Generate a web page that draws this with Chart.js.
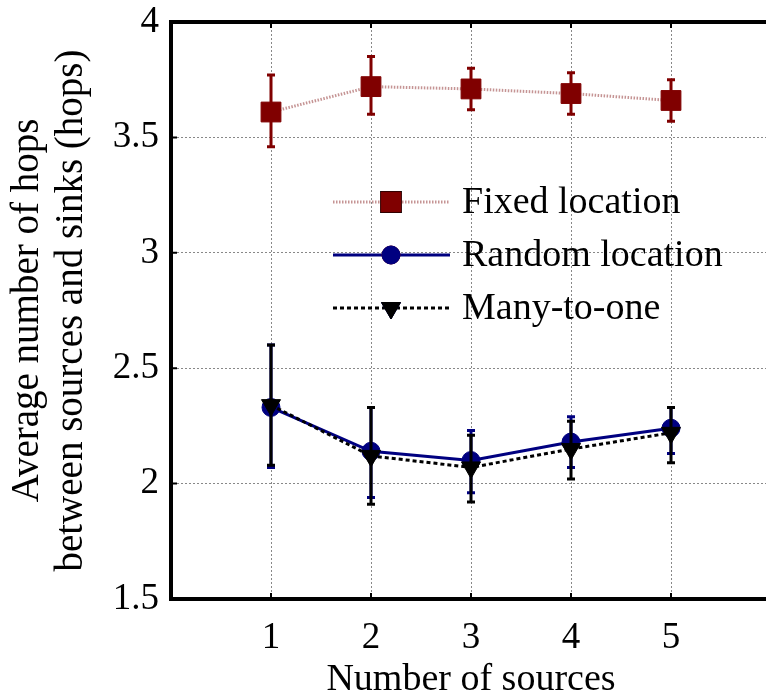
<!DOCTYPE html>
<html>
<head>
<meta charset="utf-8">
<script src="https://cdn.jsdelivr.net/npm/chart.js@4.4.0/dist/chart.umd.min.js"></script>
<style>
  html, body { margin: 0; padding: 0; background: #fff; overflow: hidden; }
  #wrap { width: 786px; height: 698px; }
</style>
</head>
<body>
<div id="wrap"><canvas id="chart" width="786" height="698"></canvas></div>
<script>
const sources = [1, 2, 3, 4, 5];
const yTicks = [1.5, 2, 2.5, 3, 3.5, 4];

const fixedMean = [3.61, 3.72, 3.71, 3.69, 3.66];
const fixedLow  = [3.46, 3.60, 3.62, 3.60, 3.57];
const fixedHigh = [3.77, 3.85, 3.80, 3.78, 3.75];

const randomMean = [2.33, 2.14, 2.10, 2.18, 2.24];
const randomLow  = [2.07, 1.94, 1.96, 2.07, 2.13];
const randomHigh = [2.60, 2.33, 2.23, 2.29, 2.33];

const manyMean = [2.34, 2.12, 2.07, 2.15, 2.22];
const manyLow  = [2.08, 1.91, 1.92, 2.02, 2.09];
const manyHigh = [2.60, 2.33, 2.21, 2.27, 2.33];

const serif = "'Liberation Serif', 'DejaVu Serif', serif";

function pts(ys) {
    return sources.map((x, i) => ({ x: x, y: ys[i] }));
}

const datasets = [
    {
        label: 'Many-to-one',
        data: pts(manyMean),
        low: manyLow, high: manyHigh,
        borderColor: '#000',
        backgroundColor: '#000',
        borderWidth: 3,
        borderDash: [4, 3],
        pointStyle: 'triangle',
        rotation: 180,
        pointRadius: 11,
        pointBorderWidth: 1
    },
    {
        label: 'Random location',
        data: pts(randomMean),
        low: randomLow, high: randomHigh,
        borderColor: '#000080',
        backgroundColor: '#000080',
        borderWidth: 3,
        pointStyle: 'circle',
        pointRadius: 9,
        pointBorderWidth: 1
    },
    {
        label: 'Fixed location',
        data: pts(fixedMean),
        low: fixedLow, high: fixedHigh,
        markColor: '#800000',
        borderColor: 'rgba(150, 60, 60, 0.55)',
        backgroundColor: '#800000',
        pointBorderColor: '#800000',
        borderWidth: 3,
        borderDash: [1.5, 1.5],
        pointStyle: 'rect',
        pointRadius: 14,
        pointBorderWidth: 1
    }
];

// error bars drawn right after each dataset's own markers
const errorBars = {
    id: 'errorBars',
    afterDatasetDraw(chart, args) {
        const ds = chart.data.datasets[args.index];
        const xs = chart.scales.x, ys = chart.scales.y;
        const ctx = chart.ctx;
        ctx.save();
        ctx.strokeStyle = ds.markColor || ds.backgroundColor;
        ctx.lineWidth = 3;
        ds.data.forEach((p, i) => {
            const px = xs.getPixelForValue(p.x);
            const top = ys.getPixelForValue(ds.high[i]);
            const bot = ys.getPixelForValue(ds.low[i]);
            ctx.beginPath();
            ctx.moveTo(px, top); ctx.lineTo(px, bot);
            ctx.moveTo(px - 4, top); ctx.lineTo(px + 4, top);
            ctx.moveTo(px - 4, bot); ctx.lineTo(px + 4, bot);
            ctx.stroke();
        });
        ctx.restore();
    }
};

// top frame line, small inward ticks and the inside legend
const frameAndLegend = {
    id: 'frameAndLegend',
    afterDraw(chart) {
        const ctx = chart.ctx;
        const a = chart.chartArea;
        const xs = chart.scales.x, ys = chart.scales.y;
        ctx.save();
        ctx.strokeStyle = '#000';
        ctx.lineWidth = 4;
        ctx.beginPath();
        ctx.moveTo(a.left - 2, a.top);
        ctx.lineTo(a.right, a.top);
        ctx.stroke();

        ctx.lineWidth = 2;
        ctx.beginPath();
        sources.forEach(v => {
            const px = xs.getPixelForValue(v);
            ctx.moveTo(px, a.bottom); ctx.lineTo(px, a.bottom - 6);
            ctx.moveTo(px, a.top); ctx.lineTo(px, a.top + 6);
        });
        yTicks.forEach(v => {
            const py = ys.getPixelForValue(v);
            ctx.moveTo(a.left, py); ctx.lineTo(a.left + 6, py);
        });
        ctx.stroke();

        const order = [2, 1, 0];
        const rowY = [202, 255, 308];
        const x0 = 333, x1 = 450, xm = 391;
        order.forEach((di, r) => {
            const ds = chart.data.datasets[di];
            const y = rowY[r];
            ctx.save();
            ctx.strokeStyle = ds.borderColor;
            ctx.lineWidth = ds.borderWidth;
            ctx.setLineDash(ds.borderDash || []);
            ctx.beginPath();
            ctx.moveTo(x0, y); ctx.lineTo(x1, y);
            ctx.stroke();
            ctx.restore();
            Chart.helpers.drawPoint(ctx, {
                pointStyle: ds.pointStyle,
                rotation: ds.rotation || 0,
                radius: ds.pointRadius,
                borderWidth: 1
            }, xm, y);
            ctx.fillStyle = ds.backgroundColor;
            ctx.strokeStyle = ds.pointBorderColor || ds.backgroundColor;
            ctx.lineWidth = 1;
            ctx.fill();
            ctx.stroke();
            ctx.fillStyle = '#000';
            ctx.font = '38px ' + serif;
            ctx.textBaseline = 'middle';
            ctx.textAlign = 'left';
            ctx.fillText(ds.label, 462, y + 1);
        });
        ctx.restore();
    }
};

new Chart(document.getElementById('chart'), {
    type: 'line',
    data: { datasets: datasets },
    options: {
        responsive: false,
        animation: false,
        layout: { padding: { top: 22, right: 5, left: 0, bottom: 0 } },
        plugins: { legend: { display: false }, tooltip: { enabled: false } },
        scales: {
            x: {
                type: 'linear',
                min: 0,
                max: 6,
                afterFit(scale) {
                    scale.height = 99;
                    scale.paddingLeft = 0;
                    scale.paddingRight = 0;
                },
                ticks: {
                    stepSize: 1,
                    color: '#000',
                    padding: 17,
                    font: { family: serif, size: 37 },
                    callback: v => (v >= 1 && v <= 5) ? String(v) : ''
                },
                grid: {
                    color: '#888',
                    lineWidth: 1,
                    drawTicks: false
                },
                border: { display: true, color: '#000', width: 4, dash: [2, 2] },
                title: {
                    display: true,
                    text: 'Number of sources',
                    color: '#000',
                    font: { family: serif, size: 38 },
                    padding: { top: 8, bottom: -5 }
                }
            },
            y: {
                min: 1.5,
                max: 4,
                afterFit(scale) {
                    scale.width = 171;
                    scale.paddingTop = 0;
                    scale.paddingBottom = 0;
                },
                afterBuildTicks(scale) { scale.ticks = yTicks.map(v => ({ value: v })); },
                ticks: {
                    color: '#000',
                    padding: 12,
                    font: { family: serif, size: 37 },
                    callback: v => String(v)
                },
                grid: {
                    color: '#888',
                    lineWidth: 1,
                    drawTicks: false
                },
                border: { display: true, color: '#000', width: 4, dash: [2, 2] },
                title: {
                    display: true,
                    text: ['Average number of hops', 'between sources and sinks (hops)'],
                    color: '#000',
                    font: { family: serif, size: 39, lineHeight: 1.12 },
                    padding: { top: 6, bottom: 0 }
                }
            }
        }
    },
    plugins: [errorBars, frameAndLegend]
});
</script>
</body>
</html>
